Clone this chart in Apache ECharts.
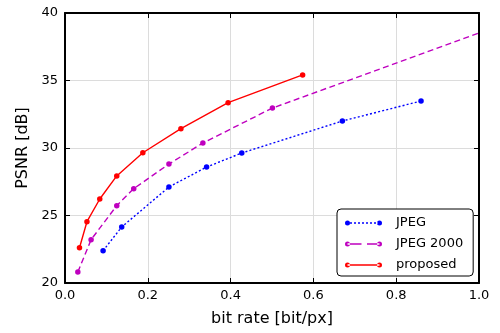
<!DOCTYPE html>
<html>
<head>
<meta charset="utf-8">
<script src="https://cdn.jsdelivr.net/npm/echarts@6/dist/echarts.min.js"></script>
<style>html,body{margin:0;padding:0;background:#fff}#c{width:500px;height:333px}</style>
</head>
<body>
<div id="c"></div>
<script>
// Data (bit rate [bit/px], PSNR [dB])
var jpegX = [0.092, 0.137, 0.251, 0.342, 0.427, 0.670, 0.860];
var jpegY = [22.39, 24.15, 27.11, 28.59, 29.63, 32.00, 33.48];
var j2kX = [0.031, 0.063, 0.125, 0.166, 0.251, 0.333, 0.501, 1.0];
var j2kY = [20.81, 23.21, 25.73, 26.99, 28.81, 30.37, 32.96, 38.52];
var propX = [0.035, 0.053, 0.084, 0.125, 0.188, 0.280, 0.394, 0.574];
var propY = [22.61, 24.54, 26.22, 27.93, 29.65, 31.43, 33.36, 35.41];
var seriesNames = ['JPEG', 'JPEG 2000', 'proposed'];
var xTicks = [0.0, 0.2, 0.4, 0.6, 0.8, 1.0];
var yTicks = [20, 25, 30, 35, 40];

function pairs(xs, ys, lastHidden) {
  return xs.map(function (x, i) {
    var item = { value: [x, ys[i]] };
    if (lastHidden && i === xs.length - 1) item.symbol = 'none';
    return item;
  });
}

var FONT = 'DejaVu Sans';
function circle(cx) { return 'M' + (cx - 2.5) + ',2.5 a2.5,2.5 0 1,0 5,0 a2.5,2.5 0 1,0 -5,0 Z '; }
function rect(x0, x1) { return 'M' + x0 + ',1.85 L' + x1 + ',1.85 L' + x1 + ',3.15 L' + x0 + ',3.15 Z '; }
var iconDotted = 'path://' + circle(2.5) + circle(34.5) + rect(5, 7) + rect(9, 11) + rect(13, 15) + rect(17, 19) + rect(21, 23) + rect(25, 27) + rect(29, 31) + rect(32.5, 33);
var iconDashed = 'path://' + circle(2.5) + circle(34.5) + rect(2.5, 16.5) + rect(22, 34.5);
var iconSolid = 'path://' + circle(2.5) + circle(34.5) + rect(2.5, 34.5);

var chart = echarts.init(document.getElementById('c'), null, { renderer: 'canvas' });
var tickCommon = { show: true, inside: true, length: 5, lineStyle: { color: '#000', width: 1 } };
chart.setOption({
  animation: false,
  backgroundColor: '#fff',
  textStyle: { fontFamily: FONT },
  grid: { left: 65, top: 13, width: 414, height: 270, containLabel: false },
  xAxis: [{
    type: 'value', min: 0, max: 1, interval: 0.2, position: 'bottom',
    name: 'bit rate [bit/px]', nameLocation: 'middle', nameGap: 28,
    nameTextStyle: { fontSize: 16, color: '#000', fontFamily: FONT },
    axisLine: { show: true, onZero: false, lineStyle: { color: '#000', width: 2 } },
    axisTick: tickCommon,
    axisLabel: { color: '#000', fontSize: 13, fontFamily: FONT, margin: 6,
      formatter: function (v) { return v.toFixed(1); } },
    splitLine: { show: true, lineStyle: { color: '#dcdcdc', width: 1 } }
  }, {
    type: 'value', min: 0, max: 1, interval: 0.2, position: 'top',
    axisLine: { show: true, onZero: false, lineStyle: { color: '#000', width: 2 } },
    axisTick: tickCommon, axisLabel: { show: false }, splitLine: { show: false }
  }],
  yAxis: [{
    type: 'value', min: 20, max: 40, interval: 5, position: 'left',
    name: 'PSNR [dB]', nameLocation: 'middle', nameGap: 29,
    nameTextStyle: { fontSize: 16, color: '#000', fontFamily: FONT },
    axisLine: { show: true, onZero: false, lineStyle: { color: '#000', width: 2 } },
    axisTick: tickCommon,
    axisLabel: { color: '#000', fontSize: 13, fontFamily: FONT, margin: 7 },
    splitLine: { show: true, lineStyle: { color: '#dcdcdc', width: 1 } }
  }, {
    type: 'value', min: 20, max: 40, interval: 5, position: 'right',
    axisLine: { show: true, onZero: false, lineStyle: { color: '#000', width: 2 } },
    axisTick: tickCommon, axisLabel: { show: false }, splitLine: { show: false }
  }],
  legend: {
    orient: 'vertical', left: 337, top: 209,
    padding: [7, 10, 4, 8], itemGap: 7,
    itemWidth: 37, itemHeight: 5,
    backgroundColor: '#fff', borderColor: '#000', borderWidth: 1, borderRadius: 4,
    textStyle: { fontSize: 13, color: '#000', fontFamily: FONT, lineHeight: 14, padding: [0, 0, 0, 9] },
    data: [
      { name: seriesNames[0], icon: iconDotted },
      { name: seriesNames[1], icon: iconDashed },
      { name: seriesNames[2], icon: iconSolid }
    ]
  },
  series: [{
    name: seriesNames[0], type: 'line', data: pairs(jpegX, jpegY, false),
    symbol: 'circle', symbolSize: 5.5, color: '#0000ff',
    lineStyle: { color: '#0000ff', width: 1.4, type: [2, 2.2] },
    itemStyle: { color: '#0000ff' }, clip: true, z: 3
  }, {
    name: seriesNames[1], type: 'line', data: pairs(j2kX, j2kY, true),
    symbol: 'circle', symbolSize: 5.5, color: '#bf00bf',
    lineStyle: { color: '#bf00bf', width: 1.4, type: [6, 3.5] },
    itemStyle: { color: '#bf00bf' }, clip: true, z: 3
  }, {
    name: seriesNames[2], type: 'line', data: pairs(propX, propY, false),
    symbol: 'circle', symbolSize: 5.5, color: '#ff0000',
    lineStyle: { color: '#ff0000', width: 1.4, type: 'solid' },
    itemStyle: { color: '#ff0000' }, clip: true, z: 3
  }]
});
</script>
</body>
</html>
